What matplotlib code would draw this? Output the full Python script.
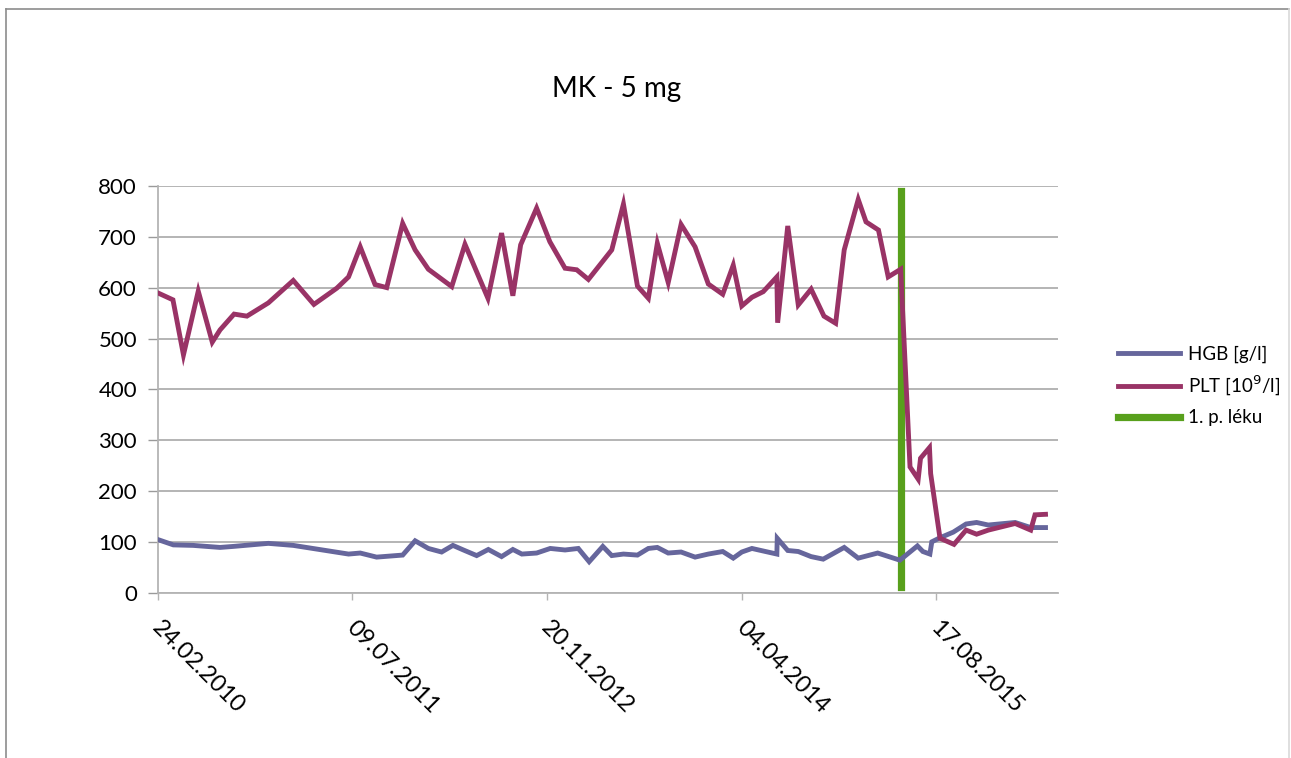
#! /usr/bin/env python3

import numpy as np
import pandas as pd
from matplotlib import pyplot as plt
from matplotlib import dates as mdates
from matplotlib import transforms
from matplotlib.lines import Line2D

plt.rcParams['font.family'] = ['Lato', 'DejaVu Sans']

start = pd.Timestamp('2010-02-24')

# days since 24.02.2010
plt_days = [2, 39, 66, 104, 140, 160, 196, 229, 284, 348,
            401, 460, 490, 520, 558, 588, 629, 661, 695, 755,
            789, 848, 883, 912, 932, 973, 1007, 1046, 1076, 1106,
            1166, 1196, 1232, 1260, 1283, 1311, 1344, 1380, 1414, 1451,
            1478, 1500, 1526, 1555, 1590, 1592, 1618, 1645, 1678, 1711,
            1741, 1763, 1799, 1819, 1851, 1876, 1908, 1932, 1953, 1959,
            1982, 1985, 2009, 2045, 2076, 2103, 2133, 2202, 2242, 2253,
            2280]
plt_vals = [589, 576, 468, 593, 493, 517, 548, 544, 570, 614,
            567, 599, 621, 680, 606, 600, 726, 674, 636, 602,
            685, 579, 707, 584, 684, 756, 690, 638, 635, 616,
            674, 764, 603, 579, 687, 610, 724, 680, 607, 587,
            644, 564, 581, 592, 621, 531, 721, 566, 597, 544,
            530, 674, 773, 729, 713, 621, 636, 248, 224, 265,
            286, 235, 108, 96, 124, 116, 124, 137, 124, 154,
            155]

hgb_days = [2, 40, 91, 160, 194, 284, 348, 490, 520, 562,
            629, 661, 695, 729, 758, 785, 819, 849, 883, 912,
            935, 973, 1008, 1046, 1080, 1108, 1143, 1166, 1196, 1232,
            1260, 1283, 1311, 1344, 1380, 1414, 1451, 1478, 1500, 1526,
            1555, 1590, 1591, 1618, 1645, 1678, 1709, 1763, 1799, 1849,
            1906, 1951, 1965, 1983, 1988, 2009, 2043, 2076, 2103, 2133,
            2202, 2242, 2280]
hgb_vals = [105, 95, 94, 90, 92, 98, 94, 77, 79, 71,
            75, 103, 88, 81, 94, 85, 74, 86, 72, 86,
            77, 79, 88, 85, 88, 62, 92, 74, 77, 75,
            88, 90, 79, 81, 71, 77, 82, 69, 81, 88,
            83, 77, 108, 84, 82, 72, 67, 90, 69, 79,
            65, 93, 82, 77, 101, 109, 120, 136, 139, 134,
            139, 129, 129]

drug_day = 1910
drug_range = [12, 790]

tick_labels = ['24.02.2010', '09.07.2011', '20.11.2012', '04.04.2014', '17.08.2015']

c_hgb = '#66669c'
c_plt = '#993366'
c_drug = '#58a01c'

plt_x = start + pd.to_timedelta(plt_days, unit='D')
hgb_x = start + pd.to_timedelta(hgb_days, unit='D')
drug_x = start + pd.Timedelta(days=drug_day)
ticks = pd.to_datetime(tick_labels, format='%d.%m.%Y')

fig = plt.figure(figsize=(12.91, 7.58), dpi=100)
ax = fig.add_axes([0.1222, 0.2173, 0.6973, 0.5377])

ax.plot(hgb_x, hgb_vals, color=c_hgb, lw=3.5, solid_joinstyle='miter', label='HGB [g/l]', zorder=3)
ax.plot(plt_x, plt_vals, color=c_plt, lw=3.5, solid_joinstyle='miter', label='PLT [10$^9$/l]', zorder=3)
ax.plot([drug_x, drug_x], drug_range, color=c_drug, lw=5.2, label='1. p. léku', zorder=2)

ax.set_ylim(0, 800)
ax.set_yticks(range(0, 801, 100))
ax.set_xlim(start, start + pd.Timedelta(days=2312))
ax.set_xticks(ticks)
ax.xaxis.set_major_formatter(mdates.DateFormatter('%d.%m.%Y'))
ax.grid(axis='y', color='#a0a0a0', lw=1.1)
ax.set_axisbelow(True)
for s in ['top', 'right']:
    ax.spines[s].set_visible(False)
for s in ['left', 'bottom']:
    ax.spines[s].set_color('#b4b4b4')
    ax.spines[s].set_linewidth(1.3)
ax.tick_params(axis='y', length=7, width=1, color='#9a9a9a', pad=8, labelsize=16)
ax.tick_params(axis='x', length=5, width=1, color='#b4b4b4', pad=12, labelsize=17)
shift = transforms.ScaledTranslation(5 / 100, 0, fig.dpi_scale_trans)
for lab in ax.get_xticklabels():
    lab.set_rotation(-45)
    lab.set_rotation_mode('anchor')
    lab.set_ha('left')
    lab.set_va('top')
    lab.set_transform(lab.get_transform() + shift)

fig.text(617 / 1291, 1 - 89 / 758, 'MK - 5 mg', ha='center', va='center', fontsize=20)

handles, labels = ax.get_legend_handles_labels()
fig.legend(handles, labels, loc='center left', bbox_to_anchor=(1101 / 1291, 1 - 386 / 758),
           frameon=False, fontsize=13.5, handlelength=3.3, handletextpad=0.45, labelspacing=0.6)

# outer chart frame
fig.add_artist(Line2D([6 / 1291, 6 / 1291], [0, 1 - 9 / 758], transform=fig.transFigure, color='#8c8c8c', lw=1.2))
fig.add_artist(Line2D([6 / 1291, 1289 / 1291], [1 - 9 / 758, 1 - 9 / 758], transform=fig.transFigure, color='#8c8c8c', lw=1.2))
fig.add_artist(Line2D([1289 / 1291, 1289 / 1291], [0, 1 - 9 / 758], transform=fig.transFigure, color='#d9d9d9', lw=1.2))

plt.savefig('out.png', dpi=100)
